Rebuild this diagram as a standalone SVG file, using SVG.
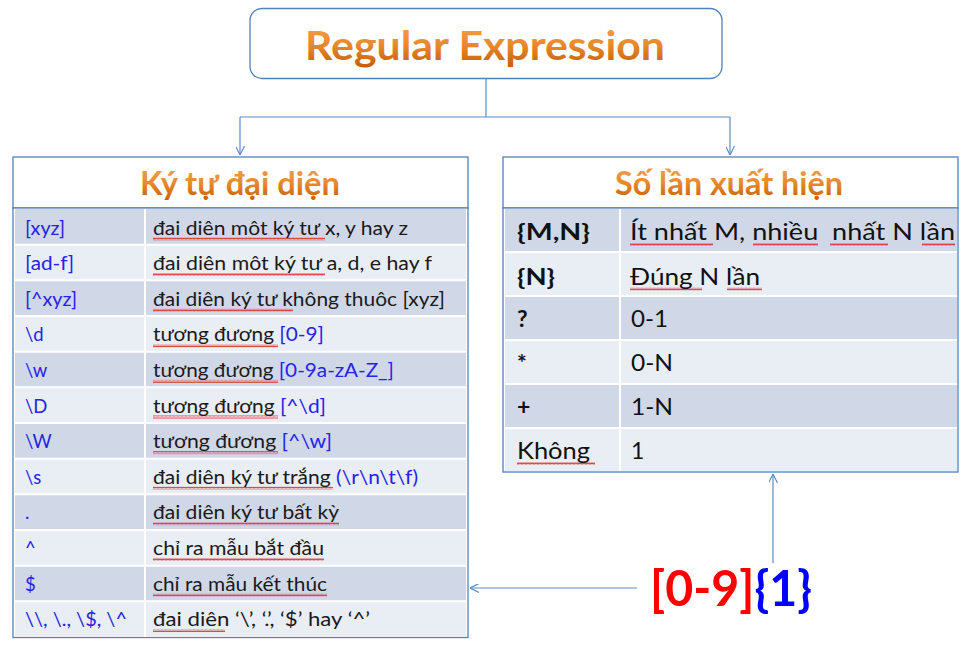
<svg xmlns="http://www.w3.org/2000/svg" width="970" height="651" viewBox="0 0 970 651">
<defs>
<style>
.ttl{font-family:Lato,"Noto Sans","Open Sans",sans-serif;font-weight:700;fill:url(#og);text-anchor:middle}
.lc{font-family:Lato,"Noto Sans",sans-serif;font-size:18.5px;fill:#2424E6}
.rc{font-family:Lato,"Noto Sans",sans-serif;font-size:18.5px;fill:#1a1a1a;white-space:pre}
.rb{font-family:Lato,"Noto Sans",sans-serif;font-size:23px;font-weight:700;fill:#111}
.rr{font-family:Lato,"Noto Sans",sans-serif;font-size:23px;fill:#111;white-space:pre}
.dk{fill:#D0D8E8}
.lt{fill:#E9EDF4}
.box{fill:#fff;stroke:#4F81BD;stroke-width:1.3}
.con{fill:none;stroke:#5B8BC7;stroke-width:1.2}
.sep{stroke:#fff;stroke-width:2}
.sq{fill:url(#wave)}
</style>
<linearGradient id="og" x1="0" y1="0" x2="0" y2="1">
<stop offset="0" stop-color="#F6A552"/>
<stop offset="0.5" stop-color="#E98A2C"/>
<stop offset="1" stop-color="#C45A08"/>
</linearGradient>
<pattern id="wave" width="4" height="3" patternUnits="userSpaceOnUse">
<path d="M0,2.5 L1,0.5 L2,2.5 L3,0.5 L4,2.5" fill="none" stroke="#E02020" stroke-width="0.8"/>
</pattern>
<marker id="ah" viewBox="0 0 10 10" refX="10" refY="5" markerWidth="9" markerHeight="9" markerUnits="userSpaceOnUse" orient="auto">
<path d="M0,0 L10,5 L0,10" fill="none" stroke="#5B8BC7" stroke-width="1.3"/>
</marker>
</defs>
<rect width="970" height="651" fill="#fff"/>

<g id="connectors">
<path class="con" d="M486,78 V117"/>
<path class="con" d="M240,117 H730"/>
<path class="con" d="M240,117 V155" marker-end="url(#ah)"/>
<path class="con" d="M730,117 V155" marker-end="url(#ah)"/>
<path class="con" d="M773,563 V474" marker-end="url(#ah)"/>
<path class="con" d="M637,588 H470" marker-end="url(#ah)"/>
</g>

<g id="root">
<rect class="box" x="250" y="8.5" width="472" height="70" rx="12"/>
<text class="ttl" x="485" y="60" font-size="41" textLength="360" lengthAdjust="spacingAndGlyphs">Regular Expression</text>
</g>

<g id="kytu">
<rect class="box" x="13" y="157" width="455" height="51"/>
<text class="ttl" x="240" y="195" font-size="32" textLength="200" lengthAdjust="spacingAndGlyphs">Ký tự đại diện</text>
<rect x="13" y="208" width="455" height="429.5" fill="#fff" stroke="#4F81BD" stroke-width="1.3"/>
<g>
<rect class="dk" x="15" y="209" width="451" height="35.7"/>
<rect class="lt" x="15" y="244.7" width="451" height="35.7"/>
<rect class="dk" x="15" y="280.3" width="451" height="35.7"/>
<rect class="lt" x="15" y="316" width="451" height="35.7"/>
<rect class="dk" x="15" y="351.7" width="451" height="35.7"/>
<rect class="lt" x="15" y="387.3" width="451" height="35.7"/>
<rect class="dk" x="15" y="423" width="451" height="35.7"/>
<rect class="lt" x="15" y="458.7" width="451" height="35.7"/>
<rect class="dk" x="15" y="494.3" width="451" height="35.7"/>
<rect class="lt" x="15" y="530" width="451" height="35.7"/>
<rect class="dk" x="15" y="565.7" width="451" height="35.7"/>
<rect class="lt" x="15" y="601.3" width="451" height="35.7"/>
<path class="sep" d="M145,209 V637 M15,244.7 H466 M15,280.3 H466 M15,316 H466 M15,351.7 H466 M15,387.3 H466 M15,423 H466 M15,458.7 H466 M15,494.3 H466 M15,530 H466 M15,565.7 H466 M15,601.3 H466"/>
</g>
<g>
<rect class="sq" x="153" y="237.5" width="172" height="3"/>
<rect class="sq" x="153" y="273" width="172" height="3"/>
<rect class="sq" x="153" y="308.7" width="140" height="3"/>
<rect class="sq" x="153" y="344.3" width="125" height="3"/>
<rect class="sq" x="153" y="379.9" width="125" height="3"/>
<rect class="sq" x="153" y="415.5" width="125" height="3"/>
<rect class="sq" x="153" y="451.1" width="125" height="3"/>
<rect class="sq" x="153" y="486.7" width="180" height="3"/>
<rect class="sq" x="153" y="522.3" width="186" height="3"/>
<rect class="sq" x="153" y="557.9" width="171" height="3"/>
<rect class="sq" x="153" y="593.5" width="174" height="3"/>
<rect class="sq" x="153" y="629.1" width="72" height="3"/>
</g>
<g>
<text class="lc" x="25" y="234.5" textLength="40" lengthAdjust="spacingAndGlyphs">[xyz]</text>
<text class="lc" x="25" y="270.1" textLength="49" lengthAdjust="spacingAndGlyphs">[ad-f]</text>
<text class="lc" x="25" y="305.7" textLength="52" lengthAdjust="spacingAndGlyphs">[^xyz]</text>
<text class="lc" x="25" y="341.3">\d</text>
<text class="lc" x="25" y="376.9">\w</text>
<text class="lc" x="25" y="412.5">\D</text>
<text class="lc" x="25" y="448.1">\W</text>
<text class="lc" x="25" y="483.7">\s</text>
<text class="lc" x="25" y="519.3">.</text>
<text class="lc" x="25" y="554.9">^</text>
<text class="lc" x="25" y="590.5">$</text>
<text class="lc" x="25" y="626.1" textLength="102" lengthAdjust="spacingAndGlyphs">\\, \., \$, \^</text>
<text class="rc" x="153" y="234.5" textLength="255" lengthAdjust="spacingAndGlyphs">đai diên môt ký tư x, y hay z</text>
<text class="rc" x="153" y="270.1" textLength="279" lengthAdjust="spacingAndGlyphs">đai diên môt ký tư a, d, e hay f</text>
<text class="rc" x="153" y="305.7" textLength="292" lengthAdjust="spacingAndGlyphs">đai diên ký tư không thuôc [xyz]</text>
<text class="rc" x="153" y="341.3" textLength="171" lengthAdjust="spacingAndGlyphs">tương đương <tspan fill="#2424E6">[0-9]</tspan></text>
<text class="rc" x="153" y="376.9" textLength="241" lengthAdjust="spacingAndGlyphs">tương đương <tspan fill="#2424E6">[0-9a-zA-Z_]</tspan></text>
<text class="rc" x="153" y="412.5" textLength="173" lengthAdjust="spacingAndGlyphs">tương đương <tspan fill="#2424E6">[^\d]</tspan></text>
<text class="rc" x="153" y="448.1" textLength="179" lengthAdjust="spacingAndGlyphs">tương đương <tspan fill="#2424E6">[^\w]</tspan></text>
<text class="rc" x="153" y="483.7" textLength="265" lengthAdjust="spacingAndGlyphs">đai diên ký tư trắng <tspan fill="#2424E6">(\r\n\t\f)</tspan></text>
<text class="rc" x="153" y="519.3" textLength="186" lengthAdjust="spacingAndGlyphs">đai diên ký tư bất kỳ</text>
<text class="rc" x="153" y="554.9" textLength="171" lengthAdjust="spacingAndGlyphs">chỉ ra mẫu bắt đầu</text>
<text class="rc" x="153" y="590.5" textLength="174" lengthAdjust="spacingAndGlyphs">chỉ ra mẫu kết thúc</text>
<text class="rc" x="153" y="626.1" textLength="217" lengthAdjust="spacingAndGlyphs">đai diên ‘\’, ‘.’, ‘$’ hay ‘^’</text>
</g>
</g>

<g id="solan">
<rect class="box" x="503" y="157" width="455" height="51"/>
<text class="ttl" x="729" y="195" font-size="32" textLength="228" lengthAdjust="spacingAndGlyphs">Số lần xuất hiện</text>
<rect x="503" y="208" width="455" height="264" fill="#fff" stroke="#4F81BD" stroke-width="1.3"/>
<rect class="dk" x="505" y="209" width="452" height="43"/>
<rect class="lt" x="505" y="252" width="452" height="44"/>
<rect class="dk" x="505" y="296" width="452" height="44"/>
<rect class="lt" x="505" y="340" width="452" height="44"/>
<rect class="dk" x="505" y="384" width="452" height="44"/>
<rect class="lt" x="505" y="428" width="452" height="43"/>
<path class="sep" d="M620,209 V471 M505,252 H957 M505,296 H957 M505,340 H957 M505,384 H957 M505,428 H957"/>
<rect class="sq" x="630" y="243" width="83" height="3"/>
<rect class="sq" x="753" y="243" width="65" height="3"/>
<rect class="sq" x="830" y="243" width="58" height="3"/>
<rect class="sq" x="922" y="243" width="33" height="3"/>
<rect class="sq" x="630" y="287.5" width="72" height="3"/>
<rect class="sq" x="727" y="287.5" width="35" height="3"/>
<rect class="sq" x="517" y="462" width="78" height="3"/>
<text class="rb" x="517" y="240" textLength="73" lengthAdjust="spacingAndGlyphs">{M,N}</text>
<text class="rb" x="517" y="284.5" textLength="38" lengthAdjust="spacingAndGlyphs">{N}</text>
<text class="rb" x="517" y="327">?</text>
<text class="rb" x="517" y="370.5">*</text>
<text class="rb" x="517" y="414.5">+</text>
<text class="rr" x="517" y="459" textLength="73" lengthAdjust="spacingAndGlyphs">Không</text>
<text class="rr" x="630" y="240" textLength="325" lengthAdjust="spacingAndGlyphs">Ít nhất M, nhiều  nhất N lần</text>
<text class="rr" x="630" y="284.5" textLength="130" lengthAdjust="spacingAndGlyphs">Đúng N lần</text>
<text class="rr" x="631" y="327" textLength="37" lengthAdjust="spacingAndGlyphs">0-1</text>
<text class="rr" x="631" y="370.5" textLength="42" lengthAdjust="spacingAndGlyphs">0-N</text>
<text class="rr" x="631" y="414.5" textLength="42" lengthAdjust="spacingAndGlyphs">1-N</text>
<text class="rr" x="631" y="459">1</text>
</g>

<g id="example">
<text x="650" y="606" font-family="Lato,'Noto Sans',sans-serif" font-size="50" font-weight="700" textLength="162" lengthAdjust="spacingAndGlyphs"><tspan fill="#FF0000">[0-9]</tspan><tspan fill="#0000FF">{1}</tspan></text>
</g>
</svg>
